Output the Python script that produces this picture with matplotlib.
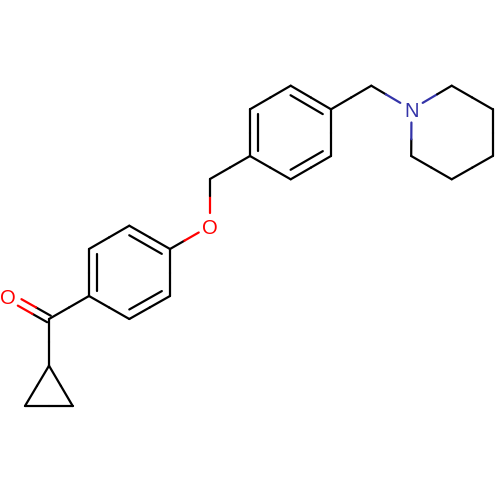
import numpy as np
import matplotlib
matplotlib.use("Agg")
import matplotlib.pyplot as plt

# Atom positions (x, y in image pixels)
atom_names = ["P1", "P2", "P3", "C0", "O1",
              "A1", "A2", "A3", "A4", "A5", "A6",
              "O2", "M1",
              "B1", "B2", "B3", "B4", "B5", "B6",
              "M2", "N1",
              "R1", "R2", "R3", "R4", "R5"]
atom_x = [49, 25, 72.7, 49, 8.3,
          89, 89, 129.3, 170, 170, 129.3,
          210, 210,
          250, 250, 290.7, 331, 331, 290.7,
          371.3, 411.5,
          451.7, 492.7, 492.7, 451.7, 411.2]
atom_y = [365.7, 406, 406, 319, 296,
          296, 249, 225.7, 249, 296, 319,
          226, 179,
          156, 109.3, 85.7, 109.3, 156, 179.3,
          85.7, 109.5,
          85.7, 109.3, 156, 179.3, 156]
labels = {"O1": "O", "O2": "O", "N1": "N"}
label_colors = {"O": "#FF0000", "N": "#3333A8", "C": "#000000"}

single_bonds = [("P1", "P2"), ("P2", "P3"), ("P3", "P1"), ("P1", "C0"), ("C0", "A1"),
                ("A1", "A2"), ("A2", "A3"), ("A3", "A4"), ("A4", "A5"), ("A5", "A6"), ("A6", "A1"),
                ("A4", "O2"), ("O2", "M1"), ("M1", "B1"),
                ("B1", "B2"), ("B2", "B3"), ("B3", "B4"), ("B4", "B5"), ("B5", "B6"), ("B6", "B1"),
                ("B4", "M2"), ("M2", "N1"), ("N1", "R1"), ("R1", "R2"), ("R2", "R3"),
                ("R3", "R4"), ("R4", "R5"), ("R5", "N1")]
# Inner line of each aromatic double bond: (atom, atom, opposite atom of the ring)
inner_bonds = [("A1", "A2", "A4"), ("A3", "A4", "A6"), ("A5", "A6", "A2"),
               ("B1", "B2", "B4"), ("B3", "B4", "B6"), ("B5", "B6", "B2")]
carbonyl = ("C0", "O1")

pos = {n: np.array([x, y], float) for n, x, y in zip(atom_names, atom_x, atom_y)}
element = lambda n: labels.get(n, "C")

LW = 1.6
TRIM = 13.0

fig = plt.figure(figsize=(5, 5), dpi=100)
ax = fig.add_axes([0, 0, 1, 1])
ax.set_xlim(0, 500)
ax.set_ylim(500, 0)
ax.axis("off")


def segment(p, q, c):
    ax.plot([p[0], q[0]], [p[1], q[1]], color=c, lw=LW, solid_capstyle="round",
            solid_joinstyle="round")


def draw_bond(a, b):
    p, q = pos[a], pos[b]
    u = (q - p) / np.linalg.norm(q - p)
    s = p + u * TRIM if a in labels else p
    e = q - u * TRIM if b in labels else q
    m = (s + e) / 2
    segment(s, m, label_colors[element(a)])
    segment(m, e, label_colors[element(b)])


for a, b in single_bonds:
    draw_bond(a, b)

for a, b, opposite in inner_bonds:
    p, q = pos[a], pos[b]
    centre = (pos[a] + pos[opposite]) / 2
    u = (q - p) / np.linalg.norm(q - p)
    n = np.array([-u[1], u[0]])
    if np.dot(centre - p, n) < 0:
        n = -n
    L = np.linalg.norm(q - p)
    segment(p + n * 8.3 + u * L * 0.1, q + n * 8.3 - u * L * 0.1, "#000000")

p, q = pos[carbonyl[0]], pos[carbonyl[1]]
u = (q - p) / np.linalg.norm(q - p)
n = np.array([-u[1], u[0]])
for sign in (-1, 1):
    s = p + n * sign * 3.7
    e = q + n * sign * 3.7 - u * TRIM
    m = (s + e) / 2
    segment(s, m, "#000000")
    segment(m, e, "#FF0000")

for name, sym in labels.items():
    ax.text(pos[name][0], pos[name][1], sym, color=label_colors[sym], fontsize=14.5,
            family="Liberation Sans", ha="center", va="center_baseline")

fig.savefig("out.png", dpi=100, facecolor="white")
